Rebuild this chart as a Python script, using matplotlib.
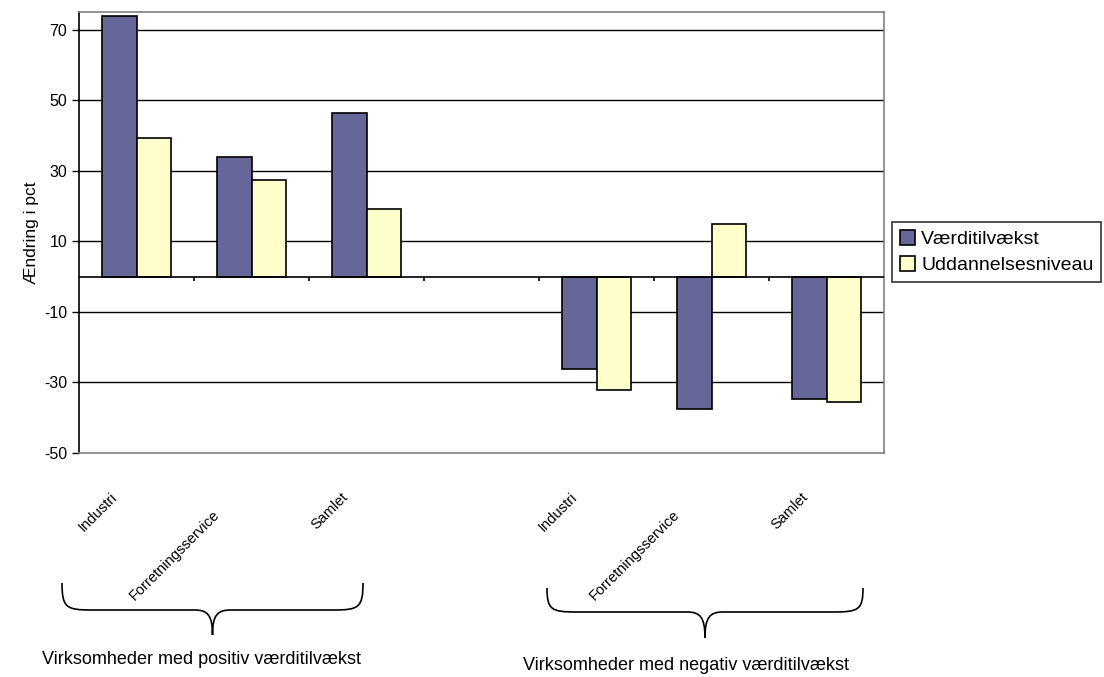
import numpy as np
import matplotlib.pyplot as plt
from matplotlib.path import Path
from matplotlib.patches import PathPatch

plt.rcParams['font.family'] = ['Liberation Sans', 'DejaVu Sans']
plt.rcParams['axes.unicode_minus'] = False

# two groups of firms, three categories each, with an empty slot between
categories = ["Industri", "Forretningsservice", "Samlet",
              "",
              "Industri", "Forretningsservice", "Samlet"]
vaerditilvaekst = [73.8, 33.8, 46.5, np.nan, -26.1, -37.4, -34.7]
uddannelsesniveau = [39.3, 27.5, 19.3, np.nan, -32.1, 14.8, -35.5]
group_titles = ["Virksomheder med positiv værditilvækst",
                "Virksomheder med negativ værditilvækst"]
yticks = [-50, -30, -10, 10, 30, 50, 70]

W, H = 1104, 677
fig = plt.figure(figsize=(W / 100, H / 100), dpi=100)
ax = fig.add_axes([79 / W, 1 - 453 / H, 805 / W, 441 / H])

x = np.arange(len(categories))
w = 0.296
ax.bar(x - w / 2, vaerditilvaekst, w, color="#666699", edgecolor="black",
       linewidth=1.2, label="Værditilvækst", zorder=3)
ax.bar(x + w / 2, uddannelsesniveau, w, color="#FFFFCC", edgecolor="black",
       linewidth=1.2, label="Uddannelsesniveau", zorder=3)

ax.set_xlim(-0.5, len(categories) - 0.5)
ax.set_ylim(-50, 75)
ax.set_yticks(yticks)
ax.tick_params(axis="y", labelsize=11.5, length=5, width=1, direction="out")
ax.set_xticks([])
for t in yticks[1:]:
    ax.axhline(t, color="black", lw=1, zorder=1)

# category axis crossing at zero, with marks between categories
ax.axhline(0, color="black", lw=1.2, zorder=4)
ax.vlines(x[:-1] + 0.5, -1.2, 0, color="black", lw=1.2, zorder=4)

for side in ["top", "right", "bottom"]:
    ax.spines[side].set_color("#808080")
    ax.spines[side].set_linewidth(1.2)
ax.spines["left"].set_color("black")
ax.spines["left"].set_linewidth(1.2)

ax.set_ylabel("Ændring i pct", fontsize=12.5, labelpad=4)

# rotated category names, the long ones staggered lower
for i, name in enumerate(categories):
    if not name:
        continue
    if name == "Forretningsservice":
        off = (-29, -55)
    else:
        off = (-16, -37)
    ax.annotate(name, xy=(x[i], 0), xycoords=("data", "axes fraction"),
                xytext=off, textcoords="offset pixels", rotation=45,
                ha="right", va="top", fontsize=10.5)


def brace(x0, x1, ytop, ymid, ytip):
    xm = (x0 + x1) / 2
    c = 30
    pts = [(x0, ytop), (x0, ymid - 2), (x0 + c * 0.15, ymid), (x0 + c, ymid),
           (xm - c * 0.6, ymid),
           (xm - 5, ymid), (xm, ymid + 5), (xm, ytip),
           (xm, ymid + 5), (xm + 5, ymid), (xm + c * 0.6, ymid),
           (x1 - c, ymid),
           (x1 - c * 0.15, ymid), (x1, ymid - 2), (x1, ytop)]
    codes = [Path.MOVETO, Path.CURVE4, Path.CURVE4, Path.CURVE4,
             Path.LINETO,
             Path.CURVE4, Path.CURVE4, Path.CURVE4,
             Path.CURVE4, Path.CURVE4, Path.CURVE4,
             Path.LINETO,
             Path.CURVE4, Path.CURVE4, Path.CURVE4]
    verts = [(px / W, 1 - py / H) for px, py in pts]
    fig.patches.append(PathPatch(Path(verts, codes), fill=False, lw=1.2,
                                 edgecolor="black",
                                 transform=fig.transFigure))


brace(62, 363, 583, 610, 635)
brace(547, 863, 588, 612, 638)

fig.text(202 / W, 1 - 660 / H, group_titles[0], ha="center", va="center",
         fontsize=13)
fig.text(686 / W, 1 - 665 / H, group_titles[1], ha="center", va="center",
         fontsize=13)

leg = fig.legend(loc="upper left", bbox_to_anchor=(892 / W, 1 - 222 / H),
                 fontsize=14, frameon=True, fancybox=False, borderpad=0.4,
                 handlelength=0.8, handleheight=0.8, handletextpad=0.3,
                 labelspacing=0.4, borderaxespad=0)
leg.get_frame().set_edgecolor("black")
leg.get_frame().set_linewidth(1.2)

fig.savefig("out.png", dpi=100)
